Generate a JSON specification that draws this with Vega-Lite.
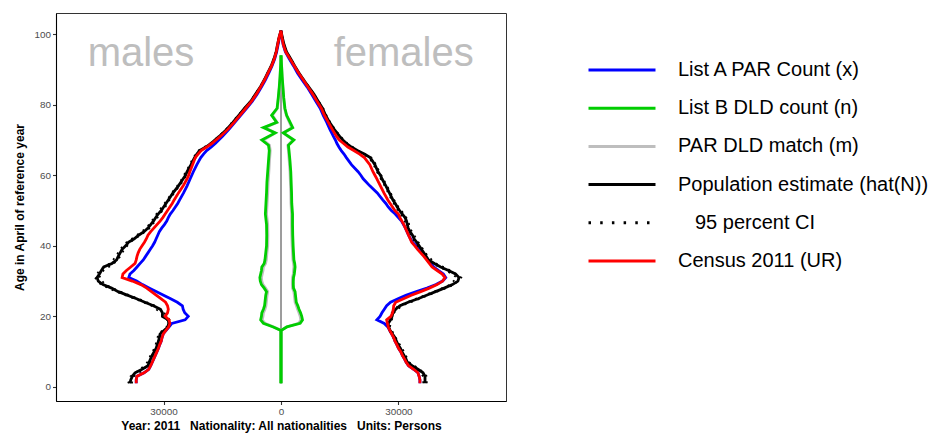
{
"$schema":"https://vega.github.io/schema/vega-lite/v6.json",
"width":450,"height":388,
"autosize":"none",
"padding":{"left":56,"top":13,"right":428,"bottom":32},
"background":"white",
"config":{
 "view":{"stroke":"#333333","strokeWidth":1},
 "font":"Liberation Sans",
 "axis":{"labelFont":"Liberation Sans","labelFontSize":9.9,"labelColor":"#4d4d4d","titleFont":"Liberation Sans","titleFontWeight":"bold","titleFontSize":12,"titleColor":"#000000","domainColor":"#000000","domainWidth":1.1,"tickColor":"#333333","tickWidth":1.1,"tickSize":3.5,"labelPadding":2,"grid":false},
 "axisX":{"titlePadding":4},
 "axisY":{"titlePadding":8}
},
"datasets":{
"center":[{"age":1,"v":0},{"age":93,"v":0}],
"sexLabels":[{"label":"males","v":-35780,"age":90.9},{"label":"females","v":31360,"age":90.9}],
"parA":[
{"age":1,"v":-37000,"line":"m"},{"age":2,"v":-37000,"line":"m"},{"age":3,"v":-36800,"line":"m"},{"age":4,"v":-35000,"line":"m"},{"age":5,"v":-33800,"line":"m"},{"age":6,"v":-33300,"line":"m"},{"age":7,"v":-32900,"line":"m"},{"age":8,"v":-32500,"line":"m"},{"age":9,"v":-32100,"line":"m"},{"age":10,"v":-31700,"line":"m"},{"age":11,"v":-31300,"line":"m"},{"age":12,"v":-31000,"line":"m"},{"age":13,"v":-30600,"line":"m"},{"age":14,"v":-30400,"line":"m"},{"age":15,"v":-30100,"line":"m"},{"age":16,"v":-29400,"line":"m"},{"age":17,"v":-28600,"line":"m"},{"age":18,"v":-27900,"line":"m"},{"age":19,"v":-24500,"line":"m"},{"age":20,"v":-23700,"line":"m"},{"age":21,"v":-24600,"line":"m"},{"age":22,"v":-25000,"line":"m"},{"age":23,"v":-25200,"line":"m"},{"age":24,"v":-26500,"line":"m"},{"age":25,"v":-28200,"line":"m"},{"age":26,"v":-30000,"line":"m"},{"age":27,"v":-31800,"line":"m"},{"age":28,"v":-33600,"line":"m"},{"age":29,"v":-35400,"line":"m"},{"age":30,"v":-36900,"line":"m"},{"age":31,"v":-38900,"line":"m"},{"age":32,"v":-38600,"line":"m"},{"age":33,"v":-37600,"line":"m"},{"age":34,"v":-36800,"line":"m"},{"age":35,"v":-36000,"line":"m"},{"age":36,"v":-35200,"line":"m"},{"age":37,"v":-34600,"line":"m"},{"age":38,"v":-34000,"line":"m"},{"age":39,"v":-33400,"line":"m"},{"age":40,"v":-32800,"line":"m"},{"age":41,"v":-32300,"line":"m"},{"age":42,"v":-31900,"line":"m"},{"age":43,"v":-31500,"line":"m"},{"age":44,"v":-31100,"line":"m"},{"age":45,"v":-30500,"line":"m"},{"age":46,"v":-29800,"line":"m"},{"age":47,"v":-29200,"line":"m"},{"age":48,"v":-28800,"line":"m"},{"age":49,"v":-28300,"line":"m"},{"age":50,"v":-27600,"line":"m"},{"age":51,"v":-27000,"line":"m"},{"age":52,"v":-26400,"line":"m"},{"age":53,"v":-25900,"line":"m"},{"age":55,"v":-24900,"line":"m"},{"age":57,"v":-24000,"line":"m"},{"age":59,"v":-23200,"line":"m"},{"age":60,"v":-22800,"line":"m"},{"age":61,"v":-22400,"line":"m"},{"age":63,"v":-21500,"line":"m"},{"age":65,"v":-20500,"line":"m"},{"age":66,"v":-19800,"line":"m"},{"age":67,"v":-19000,"line":"m"},{"age":68,"v":-17800,"line":"m"},{"age":69,"v":-16800,"line":"m"},{"age":70,"v":-15900,"line":"m"},{"age":71,"v":-15000,"line":"m"},{"age":73,"v":-13300,"line":"m"},{"age":75,"v":-11800,"line":"m"},{"age":77,"v":-10300,"line":"m"},{"age":79,"v":-8800,"line":"m"},{"age":81,"v":-7300,"line":"m"},{"age":83,"v":-6100,"line":"m"},{"age":85,"v":-5000,"line":"m"},{"age":87,"v":-4000,"line":"m"},{"age":89,"v":-3100,"line":"m"},{"age":91,"v":-2300,"line":"m"},{"age":93,"v":-1600,"line":"m"},{"age":95,"v":-1100,"line":"m"},{"age":97,"v":-750,"line":"m"},{"age":99,"v":-400,"line":"m"},{"age":101,"v":0,"line":"m"},
{"age":1,"v":35500,"line":"f"},{"age":2,"v":35500,"line":"f"},{"age":3,"v":35300,"line":"f"},{"age":4,"v":35000,"line":"f"},{"age":5,"v":33900,"line":"f"},{"age":6,"v":32600,"line":"f"},{"age":7,"v":32000,"line":"f"},{"age":8,"v":31500,"line":"f"},{"age":9,"v":31000,"line":"f"},{"age":10,"v":30600,"line":"f"},{"age":11,"v":30000,"line":"f"},{"age":12,"v":29600,"line":"f"},{"age":13,"v":29100,"line":"f"},{"age":14,"v":28800,"line":"f"},{"age":15,"v":28300,"line":"f"},{"age":16,"v":27800,"line":"f"},{"age":17,"v":27300,"line":"f"},{"age":18,"v":26400,"line":"f"},{"age":19,"v":24500,"line":"f"},{"age":20,"v":25300,"line":"f"},{"age":21,"v":25800,"line":"f"},{"age":22,"v":26400,"line":"f"},{"age":23,"v":27000,"line":"f"},{"age":24,"v":28000,"line":"f"},{"age":25,"v":29900,"line":"f"},{"age":26,"v":31900,"line":"f"},{"age":27,"v":34600,"line":"f"},{"age":28,"v":37300,"line":"f"},{"age":29,"v":39600,"line":"f"},{"age":30,"v":41300,"line":"f"},{"age":31,"v":42100,"line":"f"},{"age":32,"v":41500,"line":"f"},{"age":33,"v":40200,"line":"f"},{"age":34,"v":39000,"line":"f"},{"age":35,"v":38300,"line":"f"},{"age":36,"v":37600,"line":"f"},{"age":37,"v":36800,"line":"f"},{"age":38,"v":36000,"line":"f"},{"age":39,"v":35300,"line":"f"},{"age":40,"v":34600,"line":"f"},{"age":41,"v":33600,"line":"f"},{"age":42,"v":33100,"line":"f"},{"age":43,"v":32600,"line":"f"},{"age":44,"v":32200,"line":"f"},{"age":45,"v":31800,"line":"f"},{"age":46,"v":31300,"line":"f"},{"age":47,"v":30800,"line":"f"},{"age":48,"v":30000,"line":"f"},{"age":49,"v":29200,"line":"f"},{"age":50,"v":28200,"line":"f"},{"age":51,"v":27400,"line":"f"},{"age":52,"v":26800,"line":"f"},{"age":53,"v":26000,"line":"f"},{"age":55,"v":24600,"line":"f"},{"age":57,"v":22700,"line":"f"},{"age":59,"v":21000,"line":"f"},{"age":60,"v":20400,"line":"f"},{"age":61,"v":19700,"line":"f"},{"age":63,"v":18000,"line":"f"},{"age":65,"v":16700,"line":"f"},{"age":66,"v":16100,"line":"f"},{"age":67,"v":15400,"line":"f"},{"age":68,"v":14800,"line":"f"},{"age":69,"v":14300,"line":"f"},{"age":70,"v":13900,"line":"f"},{"age":71,"v":13400,"line":"f"},{"age":73,"v":12500,"line":"f"},{"age":75,"v":11700,"line":"f"},{"age":77,"v":10800,"line":"f"},{"age":79,"v":10000,"line":"f"},{"age":81,"v":8900,"line":"f"},{"age":83,"v":7800,"line":"f"},{"age":85,"v":6700,"line":"f"},{"age":87,"v":5400,"line":"f"},{"age":89,"v":4200,"line":"f"},{"age":91,"v":3200,"line":"f"},{"age":93,"v":2100,"line":"f"},{"age":95,"v":1100,"line":"f"},{"age":97,"v":550,"line":"f"},{"age":99,"v":250,"line":"f"},{"age":101,"v":0,"line":"f"}
],
"dldB":[
{"age":1,"v":0,"line":"m"},{"age":16,"v":0,"line":"m"},{"age":17,"v":-2000,"line":"m"},{"age":18,"v":-4500,"line":"m"},{"age":19,"v":-5200,"line":"m"},{"age":20,"v":-5000,"line":"m"},{"age":21,"v":-4900,"line":"m"},{"age":22,"v":-4500,"line":"m"},{"age":23,"v":-4200,"line":"m"},{"age":24,"v":-4100,"line":"m"},{"age":25,"v":-4000,"line":"m"},{"age":26,"v":-3900,"line":"m"},{"age":27,"v":-3700,"line":"m"},{"age":28,"v":-4300,"line":"m"},{"age":29,"v":-5000,"line":"m"},{"age":30,"v":-5300,"line":"m"},{"age":31,"v":-5400,"line":"m"},{"age":32,"v":-5200,"line":"m"},{"age":33,"v":-5000,"line":"m"},{"age":34,"v":-4900,"line":"m"},{"age":35,"v":-4300,"line":"m"},{"age":36,"v":-4100,"line":"m"},{"age":38,"v":-3900,"line":"m"},{"age":40,"v":-3700,"line":"m"},{"age":43,"v":-3650,"line":"m"},{"age":46,"v":-3700,"line":"m"},{"age":49,"v":-4000,"line":"m"},{"age":52,"v":-3850,"line":"m"},{"age":55,"v":-3700,"line":"m"},{"age":58,"v":-3600,"line":"m"},{"age":61,"v":-3400,"line":"m"},{"age":64,"v":-3200,"line":"m"},{"age":67,"v":-3000,"line":"m"},{"age":68.5,"v":-3200,"line":"m"},{"age":70,"v":-4900,"line":"m"},{"age":72,"v":-1500,"line":"m"},{"age":73.5,"v":-4500,"line":"m"},{"age":75,"v":-1100,"line":"m"},{"age":77,"v":-2400,"line":"m"},{"age":79,"v":-1000,"line":"m"},{"age":82,"v":-700,"line":"m"},{"age":85,"v":-450,"line":"m"},{"age":88,"v":-250,"line":"m"},{"age":91,"v":-100,"line":"m"},{"age":94,"v":0,"line":"m"},
{"age":1,"v":0,"line":"f"},{"age":16,"v":0,"line":"f"},{"age":17,"v":1500,"line":"f"},{"age":18,"v":4900,"line":"f"},{"age":19,"v":5500,"line":"f"},{"age":20,"v":5300,"line":"f"},{"age":21,"v":5000,"line":"f"},{"age":22,"v":4600,"line":"f"},{"age":23,"v":4300,"line":"f"},{"age":24,"v":3900,"line":"f"},{"age":25,"v":3800,"line":"f"},{"age":26,"v":3700,"line":"f"},{"age":27,"v":3600,"line":"f"},{"age":28,"v":3200,"line":"f"},{"age":29,"v":3150,"line":"f"},{"age":30,"v":3150,"line":"f"},{"age":31,"v":3200,"line":"f"},{"age":32,"v":3400,"line":"f"},{"age":33,"v":3500,"line":"f"},{"age":34,"v":3600,"line":"f"},{"age":35,"v":3500,"line":"f"},{"age":36,"v":3300,"line":"f"},{"age":38,"v":3200,"line":"f"},{"age":40,"v":3100,"line":"f"},{"age":43,"v":3000,"line":"f"},{"age":46,"v":2950,"line":"f"},{"age":49,"v":2950,"line":"f"},{"age":52,"v":2750,"line":"f"},{"age":55,"v":2700,"line":"f"},{"age":58,"v":2600,"line":"f"},{"age":61,"v":2500,"line":"f"},{"age":64,"v":2300,"line":"f"},{"age":67,"v":2050,"line":"f"},{"age":68.5,"v":1900,"line":"f"},{"age":70,"v":3300,"line":"f"},{"age":72,"v":600,"line":"f"},{"age":73.5,"v":3000,"line":"f"},{"age":77,"v":1450,"line":"f"},{"age":79,"v":1000,"line":"f"},{"age":82,"v":700,"line":"f"},{"age":85,"v":500,"line":"f"},{"age":88,"v":300,"line":"f"},{"age":91,"v":150,"line":"f"},{"age":94,"v":0,"line":"f"}
],
"match":[
{"age":1,"v":0,"line":"m"},{"age":16,"v":0,"line":"m"},{"age":17,"v":-1800,"line":"m"},{"age":18,"v":-4100,"line":"m"},{"age":19,"v":-4800,"line":"m"},{"age":20,"v":-4600,"line":"m"},{"age":21,"v":-4500,"line":"m"},{"age":22,"v":-4100,"line":"m"},{"age":23,"v":-3850,"line":"m"},{"age":24,"v":-3750,"line":"m"},{"age":25,"v":-3650,"line":"m"},{"age":26,"v":-3550,"line":"m"},{"age":27,"v":-3400,"line":"m"},{"age":28,"v":-3950,"line":"m"},{"age":29,"v":-4600,"line":"m"},{"age":30,"v":-4900,"line":"m"},{"age":31,"v":-5000,"line":"m"},{"age":32,"v":-4800,"line":"m"},{"age":33,"v":-4600,"line":"m"},{"age":34,"v":-4500,"line":"m"},{"age":35,"v":-3950,"line":"m"},{"age":36,"v":-3750,"line":"m"},{"age":38,"v":-3600,"line":"m"},{"age":40,"v":-3400,"line":"m"},{"age":43,"v":-3350,"line":"m"},{"age":46,"v":-3400,"line":"m"},{"age":49,"v":-3700,"line":"m"},{"age":52,"v":-3550,"line":"m"},{"age":55,"v":-3400,"line":"m"},{"age":58,"v":-3300,"line":"m"},{"age":61,"v":-3100,"line":"m"},{"age":64,"v":-2950,"line":"m"},{"age":67,"v":-2750,"line":"m"},{"age":68.5,"v":-2950,"line":"m"},{"age":70,"v":-4500,"line":"m"},{"age":72,"v":-1400,"line":"m"},{"age":73.5,"v":-4100,"line":"m"},{"age":75,"v":-1000,"line":"m"},{"age":77,"v":-2200,"line":"m"},{"age":79,"v":-900,"line":"m"},{"age":82,"v":-650,"line":"m"},{"age":85,"v":-400,"line":"m"},{"age":88,"v":-230,"line":"m"},{"age":91,"v":-90,"line":"m"},{"age":94,"v":0,"line":"m"},
{"age":1,"v":0,"line":"f"},{"age":16,"v":0,"line":"f"},{"age":17,"v":1400,"line":"f"},{"age":18,"v":4500,"line":"f"},{"age":19,"v":5050,"line":"f"},{"age":20,"v":4900,"line":"f"},{"age":21,"v":4600,"line":"f"},{"age":22,"v":4250,"line":"f"},{"age":23,"v":3950,"line":"f"},{"age":24,"v":3600,"line":"f"},{"age":25,"v":3500,"line":"f"},{"age":26,"v":3400,"line":"f"},{"age":27,"v":3300,"line":"f"},{"age":28,"v":2950,"line":"f"},{"age":29,"v":2900,"line":"f"},{"age":30,"v":2900,"line":"f"},{"age":31,"v":2950,"line":"f"},{"age":32,"v":3150,"line":"f"},{"age":33,"v":3200,"line":"f"},{"age":34,"v":3300,"line":"f"},{"age":35,"v":3200,"line":"f"},{"age":36,"v":3050,"line":"f"},{"age":38,"v":2950,"line":"f"},{"age":40,"v":2850,"line":"f"},{"age":43,"v":2750,"line":"f"},{"age":46,"v":2700,"line":"f"},{"age":49,"v":2700,"line":"f"},{"age":52,"v":2550,"line":"f"},{"age":55,"v":2500,"line":"f"},{"age":58,"v":2400,"line":"f"},{"age":61,"v":2300,"line":"f"},{"age":64,"v":2100,"line":"f"},{"age":67,"v":1900,"line":"f"},{"age":68.5,"v":1750,"line":"f"},{"age":70,"v":3050,"line":"f"},{"age":72,"v":550,"line":"f"},{"age":73.5,"v":2750,"line":"f"},{"age":77,"v":1350,"line":"f"},{"age":79,"v":900,"line":"f"},{"age":82,"v":650,"line":"f"},{"age":85,"v":450,"line":"f"},{"age":88,"v":280,"line":"f"},{"age":91,"v":140,"line":"f"},{"age":94,"v":0,"line":"f"}
],
"est":[
{"age":1,"v":-38600,"line":"m"},{"age":2,"v":-38400,"line":"m"},{"age":3,"v":-38000,"line":"m"},{"age":4,"v":-37300,"line":"m"},{"age":5,"v":-35500,"line":"m"},{"age":6,"v":-34000,"line":"m"},{"age":7,"v":-33700,"line":"m"},{"age":8,"v":-33300,"line":"m"},{"age":9,"v":-32900,"line":"m"},{"age":10,"v":-32400,"line":"m"},{"age":11,"v":-31900,"line":"m"},{"age":12,"v":-31600,"line":"m"},{"age":13,"v":-31300,"line":"m"},{"age":14,"v":-31100,"line":"m"},{"age":15,"v":-30900,"line":"m"},{"age":16,"v":-29900,"line":"m"},{"age":17,"v":-28900,"line":"m"},{"age":18,"v":-28700,"line":"m"},{"age":19,"v":-28800,"line":"m"},{"age":20,"v":-30300,"line":"m"},{"age":21,"v":-30300,"line":"m"},{"age":22,"v":-30800,"line":"m"},{"age":23,"v":-32600,"line":"m"},{"age":24,"v":-34800,"line":"m"},{"age":25,"v":-36900,"line":"m"},{"age":26,"v":-39300,"line":"m"},{"age":27,"v":-41600,"line":"m"},{"age":28,"v":-43300,"line":"m"},{"age":29,"v":-45500,"line":"m"},{"age":30,"v":-46700,"line":"m"},{"age":31,"v":-47000,"line":"m"},{"age":32,"v":-46400,"line":"m"},{"age":33,"v":-45900,"line":"m"},{"age":34,"v":-45300,"line":"m"},{"age":35,"v":-43200,"line":"m"},{"age":36,"v":-42000,"line":"m"},{"age":37,"v":-41600,"line":"m"},{"age":38,"v":-41100,"line":"m"},{"age":39,"v":-40600,"line":"m"},{"age":40,"v":-39700,"line":"m"},{"age":41,"v":-39000,"line":"m"},{"age":42,"v":-37500,"line":"m"},{"age":43,"v":-36400,"line":"m"},{"age":44,"v":-35000,"line":"m"},{"age":45,"v":-34000,"line":"m"},{"age":46,"v":-33300,"line":"m"},{"age":47,"v":-32600,"line":"m"},{"age":48,"v":-32000,"line":"m"},{"age":49,"v":-31400,"line":"m"},{"age":50,"v":-30600,"line":"m"},{"age":51,"v":-30000,"line":"m"},{"age":52,"v":-29400,"line":"m"},{"age":53,"v":-28800,"line":"m"},{"age":55,"v":-27600,"line":"m"},{"age":57,"v":-26200,"line":"m"},{"age":59,"v":-25000,"line":"m"},{"age":60,"v":-24400,"line":"m"},{"age":61,"v":-24000,"line":"m"},{"age":63,"v":-23000,"line":"m"},{"age":65,"v":-22100,"line":"m"},{"age":66,"v":-21500,"line":"m"},{"age":67,"v":-20800,"line":"m"},{"age":68,"v":-19200,"line":"m"},{"age":69,"v":-17900,"line":"m"},{"age":70,"v":-16900,"line":"m"},{"age":71,"v":-15800,"line":"m"},{"age":73,"v":-13900,"line":"m"},{"age":75,"v":-12300,"line":"m"},{"age":77,"v":-10800,"line":"m"},{"age":79,"v":-9300,"line":"m"},{"age":81,"v":-7700,"line":"m"},{"age":83,"v":-6500,"line":"m"},{"age":85,"v":-5300,"line":"m"},{"age":87,"v":-4300,"line":"m"},{"age":89,"v":-3400,"line":"m"},{"age":91,"v":-2500,"line":"m"},{"age":93,"v":-1800,"line":"m"},{"age":95,"v":-1250,"line":"m"},{"age":97,"v":-900,"line":"m"},{"age":99,"v":-500,"line":"m"},{"age":101,"v":0,"line":"m"},
{"age":1,"v":36800,"line":"f"},{"age":2,"v":36800,"line":"f"},{"age":3,"v":36800,"line":"f"},{"age":4,"v":36300,"line":"f"},{"age":5,"v":35000,"line":"f"},{"age":6,"v":33500,"line":"f"},{"age":7,"v":32300,"line":"f"},{"age":8,"v":31900,"line":"f"},{"age":9,"v":31400,"line":"f"},{"age":10,"v":30900,"line":"f"},{"age":11,"v":30500,"line":"f"},{"age":12,"v":29900,"line":"f"},{"age":13,"v":29500,"line":"f"},{"age":14,"v":29100,"line":"f"},{"age":15,"v":28500,"line":"f"},{"age":16,"v":27900,"line":"f"},{"age":17,"v":27500,"line":"f"},{"age":18,"v":27400,"line":"f"},{"age":19,"v":28000,"line":"f"},{"age":20,"v":28400,"line":"f"},{"age":21,"v":28600,"line":"f"},{"age":22,"v":29300,"line":"f"},{"age":23,"v":30400,"line":"f"},{"age":24,"v":32500,"line":"f"},{"age":25,"v":35000,"line":"f"},{"age":26,"v":37200,"line":"f"},{"age":27,"v":39500,"line":"f"},{"age":28,"v":41700,"line":"f"},{"age":29,"v":43800,"line":"f"},{"age":30,"v":45200,"line":"f"},{"age":31,"v":45500,"line":"f"},{"age":32,"v":44600,"line":"f"},{"age":33,"v":42800,"line":"f"},{"age":34,"v":40800,"line":"f"},{"age":35,"v":39200,"line":"f"},{"age":36,"v":37700,"line":"f"},{"age":37,"v":37100,"line":"f"},{"age":38,"v":36500,"line":"f"},{"age":39,"v":35900,"line":"f"},{"age":40,"v":35300,"line":"f"},{"age":41,"v":34700,"line":"f"},{"age":42,"v":34000,"line":"f"},{"age":43,"v":33600,"line":"f"},{"age":44,"v":33000,"line":"f"},{"age":45,"v":32500,"line":"f"},{"age":46,"v":32300,"line":"f"},{"age":47,"v":32100,"line":"f"},{"age":48,"v":31700,"line":"f"},{"age":49,"v":31000,"line":"f"},{"age":50,"v":30300,"line":"f"},{"age":51,"v":29700,"line":"f"},{"age":52,"v":29200,"line":"f"},{"age":53,"v":28600,"line":"f"},{"age":55,"v":27700,"line":"f"},{"age":57,"v":26800,"line":"f"},{"age":59,"v":25800,"line":"f"},{"age":60,"v":25400,"line":"f"},{"age":61,"v":24800,"line":"f"},{"age":63,"v":24000,"line":"f"},{"age":65,"v":22800,"line":"f"},{"age":66,"v":21300,"line":"f"},{"age":67,"v":19500,"line":"f"},{"age":68,"v":18000,"line":"f"},{"age":69,"v":16800,"line":"f"},{"age":70,"v":15800,"line":"f"},{"age":71,"v":15000,"line":"f"},{"age":73,"v":13600,"line":"f"},{"age":75,"v":12400,"line":"f"},{"age":77,"v":11400,"line":"f"},{"age":79,"v":10600,"line":"f"},{"age":81,"v":9500,"line":"f"},{"age":83,"v":8400,"line":"f"},{"age":85,"v":7100,"line":"f"},{"age":87,"v":5800,"line":"f"},{"age":89,"v":4600,"line":"f"},{"age":91,"v":3500,"line":"f"},{"age":93,"v":2500,"line":"f"},{"age":95,"v":1400,"line":"f"},{"age":97,"v":800,"line":"f"},{"age":99,"v":350,"line":"f"},{"age":101,"v":0,"line":"f"}
],
"ci":[
{"age":1,"v":-39050,"line":"mlo"},{"age":3,"v":-38450,"line":"mlo"},{"age":5,"v":-35950,"line":"mlo"},{"age":7,"v":-34150,"line":"mlo"},{"age":9,"v":-33350,"line":"mlo"},{"age":11,"v":-32350,"line":"mlo"},{"age":13,"v":-31750,"line":"mlo"},{"age":15,"v":-31350,"line":"mlo"},{"age":17,"v":-29220,"line":"mlo"},{"age":19,"v":-29120,"line":"mlo"},{"age":21,"v":-30750,"line":"mlo"},{"age":23,"v":-33050,"line":"mlo"},{"age":25,"v":-37350,"line":"mlo"},{"age":27,"v":-42150,"line":"mlo"},{"age":29,"v":-46050,"line":"mlo"},{"age":31,"v":-47550,"line":"mlo"},{"age":33,"v":-46450,"line":"mlo"},{"age":35,"v":-43750,"line":"mlo"},{"age":37,"v":-42150,"line":"mlo"},{"age":39,"v":-41150,"line":"mlo"},{"age":41,"v":-39450,"line":"mlo"},{"age":43,"v":-36850,"line":"mlo"},{"age":45,"v":-34450,"line":"mlo"},{"age":47,"v":-33050,"line":"mlo"},{"age":49,"v":-31850,"line":"mlo"},{"age":51,"v":-30450,"line":"mlo"},{"age":53,"v":-29120,"line":"mlo"},{"age":55,"v":-27920,"line":"mlo"},{"age":57,"v":-26520,"line":"mlo"},{"age":59,"v":-25320,"line":"mlo"},{"age":61,"v":-24320,"line":"mlo"},{"age":63,"v":-23320,"line":"mlo"},{"age":65,"v":-22420,"line":"mlo"},{"age":67,"v":-21120,"line":"mlo"},{"age":69,"v":-18100,"line":"mlo"},{"age":71,"v":-16000,"line":"mlo"},{"age":73,"v":-14100,"line":"mlo"},{"age":75,"v":-12500,"line":"mlo"},{"age":77,"v":-11000,"line":"mlo"},{"age":79,"v":-9400,"line":"mlo"},{"age":81,"v":-7800,"line":"mlo"},{"age":83,"v":-6600,"line":"mlo"},{"age":85,"v":-5400,"line":"mlo"},{"age":87,"v":-4350,"line":"mlo"},{"age":89,"v":-3450,"line":"mlo"},{"age":91,"v":-2550,"line":"mlo"},{"age":93,"v":-1850,"line":"mlo"},{"age":95,"v":-1300,"line":"mlo"},{"age":97,"v":-950,"line":"mlo"},{"age":99,"v":-550,"line":"mlo"},{"age":101,"v":0,"line":"mlo"},
{"age":1,"v":-38150,"line":"mhi"},{"age":3,"v":-37550,"line":"mhi"},{"age":5,"v":-35050,"line":"mhi"},{"age":7,"v":-33250,"line":"mhi"},{"age":9,"v":-32450,"line":"mhi"},{"age":11,"v":-31450,"line":"mhi"},{"age":13,"v":-30850,"line":"mhi"},{"age":15,"v":-30450,"line":"mhi"},{"age":17,"v":-28580,"line":"mhi"},{"age":19,"v":-28480,"line":"mhi"},{"age":21,"v":-29850,"line":"mhi"},{"age":23,"v":-32150,"line":"mhi"},{"age":25,"v":-36450,"line":"mhi"},{"age":27,"v":-41050,"line":"mhi"},{"age":29,"v":-44950,"line":"mhi"},{"age":31,"v":-46450,"line":"mhi"},{"age":33,"v":-45350,"line":"mhi"},{"age":35,"v":-42650,"line":"mhi"},{"age":37,"v":-41050,"line":"mhi"},{"age":39,"v":-40050,"line":"mhi"},{"age":41,"v":-38550,"line":"mhi"},{"age":43,"v":-35950,"line":"mhi"},{"age":45,"v":-33550,"line":"mhi"},{"age":47,"v":-32150,"line":"mhi"},{"age":49,"v":-30950,"line":"mhi"},{"age":51,"v":-29550,"line":"mhi"},{"age":53,"v":-28480,"line":"mhi"},{"age":55,"v":-27280,"line":"mhi"},{"age":57,"v":-25880,"line":"mhi"},{"age":59,"v":-24680,"line":"mhi"},{"age":61,"v":-23680,"line":"mhi"},{"age":63,"v":-22680,"line":"mhi"},{"age":65,"v":-21780,"line":"mhi"},{"age":67,"v":-20480,"line":"mhi"},{"age":69,"v":-17700,"line":"mhi"},{"age":71,"v":-15600,"line":"mhi"},{"age":73,"v":-13700,"line":"mhi"},{"age":75,"v":-12100,"line":"mhi"},{"age":77,"v":-10600,"line":"mhi"},{"age":79,"v":-9200,"line":"mhi"},{"age":81,"v":-7600,"line":"mhi"},{"age":83,"v":-6400,"line":"mhi"},{"age":85,"v":-5200,"line":"mhi"},{"age":87,"v":-4250,"line":"mhi"},{"age":89,"v":-3350,"line":"mhi"},{"age":91,"v":-2450,"line":"mhi"},{"age":93,"v":-1750,"line":"mhi"},{"age":95,"v":-1200,"line":"mhi"},{"age":97,"v":-850,"line":"mhi"},{"age":99,"v":-450,"line":"mhi"},{"age":101,"v":0,"line":"mhi"},
{"age":1,"v":36350,"line":"flo"},{"age":3,"v":36350,"line":"flo"},{"age":5,"v":34550,"line":"flo"},{"age":7,"v":31850,"line":"flo"},{"age":9,"v":30950,"line":"flo"},{"age":11,"v":30050,"line":"flo"},{"age":13,"v":29180,"line":"flo"},{"age":15,"v":28180,"line":"flo"},{"age":17,"v":27180,"line":"flo"},{"age":19,"v":27680,"line":"flo"},{"age":21,"v":28280,"line":"flo"},{"age":23,"v":29950,"line":"flo"},{"age":25,"v":34550,"line":"flo"},{"age":27,"v":39050,"line":"flo"},{"age":29,"v":43250,"line":"flo"},{"age":31,"v":44950,"line":"flo"},{"age":33,"v":42250,"line":"flo"},{"age":35,"v":38750,"line":"flo"},{"age":37,"v":36650,"line":"flo"},{"age":39,"v":35450,"line":"flo"},{"age":41,"v":34250,"line":"flo"},{"age":43,"v":33150,"line":"flo"},{"age":45,"v":32050,"line":"flo"},{"age":47,"v":31650,"line":"flo"},{"age":49,"v":30550,"line":"flo"},{"age":51,"v":29380,"line":"flo"},{"age":53,"v":28280,"line":"flo"},{"age":55,"v":27380,"line":"flo"},{"age":57,"v":26480,"line":"flo"},{"age":59,"v":25480,"line":"flo"},{"age":61,"v":24480,"line":"flo"},{"age":63,"v":23680,"line":"flo"},{"age":65,"v":22480,"line":"flo"},{"age":67,"v":19300,"line":"flo"},{"age":69,"v":16600,"line":"flo"},{"age":71,"v":14800,"line":"flo"},{"age":73,"v":13400,"line":"flo"},{"age":75,"v":12200,"line":"flo"},{"age":77,"v":11200,"line":"flo"},{"age":79,"v":10400,"line":"flo"},{"age":81,"v":9400,"line":"flo"},{"age":83,"v":8300,"line":"flo"},{"age":85,"v":7000,"line":"flo"},{"age":87,"v":5700,"line":"flo"},{"age":89,"v":4550,"line":"flo"},{"age":91,"v":3450,"line":"flo"},{"age":93,"v":2450,"line":"flo"},{"age":95,"v":1350,"line":"flo"},{"age":97,"v":750,"line":"flo"},{"age":99,"v":300,"line":"flo"},{"age":101,"v":0,"line":"flo"},
{"age":1,"v":37250,"line":"fhi"},{"age":3,"v":37250,"line":"fhi"},{"age":5,"v":35450,"line":"fhi"},{"age":7,"v":32750,"line":"fhi"},{"age":9,"v":31850,"line":"fhi"},{"age":11,"v":30950,"line":"fhi"},{"age":13,"v":29820,"line":"fhi"},{"age":15,"v":28820,"line":"fhi"},{"age":17,"v":27820,"line":"fhi"},{"age":19,"v":28320,"line":"fhi"},{"age":21,"v":28920,"line":"fhi"},{"age":23,"v":30850,"line":"fhi"},{"age":25,"v":35450,"line":"fhi"},{"age":27,"v":39950,"line":"fhi"},{"age":29,"v":44350,"line":"fhi"},{"age":31,"v":46050,"line":"fhi"},{"age":33,"v":43350,"line":"fhi"},{"age":35,"v":39650,"line":"fhi"},{"age":37,"v":37550,"line":"fhi"},{"age":39,"v":36350,"line":"fhi"},{"age":41,"v":35150,"line":"fhi"},{"age":43,"v":34050,"line":"fhi"},{"age":45,"v":32950,"line":"fhi"},{"age":47,"v":32550,"line":"fhi"},{"age":49,"v":31450,"line":"fhi"},{"age":51,"v":30020,"line":"fhi"},{"age":53,"v":28920,"line":"fhi"},{"age":55,"v":28020,"line":"fhi"},{"age":57,"v":27120,"line":"fhi"},{"age":59,"v":26120,"line":"fhi"},{"age":61,"v":25120,"line":"fhi"},{"age":63,"v":24320,"line":"fhi"},{"age":65,"v":23120,"line":"fhi"},{"age":67,"v":19700,"line":"fhi"},{"age":69,"v":17000,"line":"fhi"},{"age":71,"v":15200,"line":"fhi"},{"age":73,"v":13800,"line":"fhi"},{"age":75,"v":12600,"line":"fhi"},{"age":77,"v":11600,"line":"fhi"},{"age":79,"v":10800,"line":"fhi"},{"age":81,"v":9600,"line":"fhi"},{"age":83,"v":8500,"line":"fhi"},{"age":85,"v":7200,"line":"fhi"},{"age":87,"v":5900,"line":"fhi"},{"age":89,"v":4650,"line":"fhi"},{"age":91,"v":3550,"line":"fhi"},{"age":93,"v":2550,"line":"fhi"},{"age":95,"v":1450,"line":"fhi"},{"age":97,"v":850,"line":"fhi"},{"age":99,"v":400,"line":"fhi"},{"age":101,"v":0,"line":"fhi"}
],
"census":[
{"age":1,"v":-37000,"line":"m"},{"age":2,"v":-37000,"line":"m"},{"age":3,"v":-36800,"line":"m"},{"age":4,"v":-35000,"line":"m"},{"age":5,"v":-33800,"line":"m"},{"age":6,"v":-33300,"line":"m"},{"age":7,"v":-32900,"line":"m"},{"age":8,"v":-32500,"line":"m"},{"age":9,"v":-32100,"line":"m"},{"age":10,"v":-31700,"line":"m"},{"age":11,"v":-31300,"line":"m"},{"age":12,"v":-31000,"line":"m"},{"age":13,"v":-30600,"line":"m"},{"age":14,"v":-30400,"line":"m"},{"age":15,"v":-30100,"line":"m"},{"age":16,"v":-29400,"line":"m"},{"age":17,"v":-28700,"line":"m"},{"age":18,"v":-28400,"line":"m"},{"age":19,"v":-28600,"line":"m"},{"age":20,"v":-29600,"line":"m"},{"age":21,"v":-29000,"line":"m"},{"age":22,"v":-28800,"line":"m"},{"age":23,"v":-29000,"line":"m"},{"age":24,"v":-29500,"line":"m"},{"age":25,"v":-30700,"line":"m"},{"age":26,"v":-31900,"line":"m"},{"age":27,"v":-33100,"line":"m"},{"age":28,"v":-34300,"line":"m"},{"age":29,"v":-35800,"line":"m"},{"age":30,"v":-38000,"line":"m"},{"age":31,"v":-40600,"line":"m"},{"age":32,"v":-40400,"line":"m"},{"age":33,"v":-39500,"line":"m"},{"age":34,"v":-38400,"line":"m"},{"age":35,"v":-37300,"line":"m"},{"age":36,"v":-37000,"line":"m"},{"age":37,"v":-36800,"line":"m"},{"age":38,"v":-36500,"line":"m"},{"age":39,"v":-36100,"line":"m"},{"age":40,"v":-35500,"line":"m"},{"age":41,"v":-34900,"line":"m"},{"age":42,"v":-34400,"line":"m"},{"age":43,"v":-34000,"line":"m"},{"age":44,"v":-33300,"line":"m"},{"age":45,"v":-32500,"line":"m"},{"age":46,"v":-31700,"line":"m"},{"age":47,"v":-30900,"line":"m"},{"age":48,"v":-30200,"line":"m"},{"age":49,"v":-29600,"line":"m"},{"age":50,"v":-29000,"line":"m"},{"age":51,"v":-28400,"line":"m"},{"age":52,"v":-27800,"line":"m"},{"age":53,"v":-27300,"line":"m"},{"age":55,"v":-26200,"line":"m"},{"age":57,"v":-25000,"line":"m"},{"age":59,"v":-24000,"line":"m"},{"age":60,"v":-23600,"line":"m"},{"age":61,"v":-23300,"line":"m"},{"age":63,"v":-22600,"line":"m"},{"age":65,"v":-21900,"line":"m"},{"age":66,"v":-21200,"line":"m"},{"age":67,"v":-20400,"line":"m"},{"age":68,"v":-19000,"line":"m"},{"age":69,"v":-17700,"line":"m"},{"age":70,"v":-16600,"line":"m"},{"age":71,"v":-15500,"line":"m"},{"age":73,"v":-13600,"line":"m"},{"age":75,"v":-12000,"line":"m"},{"age":77,"v":-10500,"line":"m"},{"age":79,"v":-9000,"line":"m"},{"age":81,"v":-7500,"line":"m"},{"age":83,"v":-6300,"line":"m"},{"age":85,"v":-5200,"line":"m"},{"age":87,"v":-4200,"line":"m"},{"age":89,"v":-3300,"line":"m"},{"age":91,"v":-2400,"line":"m"},{"age":93,"v":-1700,"line":"m"},{"age":95,"v":-1200,"line":"m"},{"age":97,"v":-850,"line":"m"},{"age":99,"v":-500,"line":"m"},{"age":101,"v":0,"line":"m"},
{"age":1,"v":35500,"line":"f"},{"age":2,"v":35500,"line":"f"},{"age":3,"v":35300,"line":"f"},{"age":4,"v":35000,"line":"f"},{"age":5,"v":33900,"line":"f"},{"age":6,"v":32600,"line":"f"},{"age":7,"v":32000,"line":"f"},{"age":8,"v":31500,"line":"f"},{"age":9,"v":31000,"line":"f"},{"age":10,"v":30600,"line":"f"},{"age":11,"v":30000,"line":"f"},{"age":12,"v":29600,"line":"f"},{"age":13,"v":29100,"line":"f"},{"age":14,"v":28800,"line":"f"},{"age":15,"v":28300,"line":"f"},{"age":16,"v":27800,"line":"f"},{"age":17,"v":27400,"line":"f"},{"age":18,"v":27200,"line":"f"},{"age":19,"v":27000,"line":"f"},{"age":20,"v":28100,"line":"f"},{"age":21,"v":28500,"line":"f"},{"age":22,"v":28700,"line":"f"},{"age":23,"v":28800,"line":"f"},{"age":24,"v":29300,"line":"f"},{"age":25,"v":31300,"line":"f"},{"age":26,"v":33300,"line":"f"},{"age":27,"v":35700,"line":"f"},{"age":28,"v":37900,"line":"f"},{"age":29,"v":39900,"line":"f"},{"age":30,"v":41300,"line":"f"},{"age":31,"v":41900,"line":"f"},{"age":32,"v":41200,"line":"f"},{"age":33,"v":39900,"line":"f"},{"age":34,"v":38600,"line":"f"},{"age":35,"v":37900,"line":"f"},{"age":36,"v":37200,"line":"f"},{"age":37,"v":36500,"line":"f"},{"age":38,"v":35700,"line":"f"},{"age":39,"v":34900,"line":"f"},{"age":40,"v":34200,"line":"f"},{"age":41,"v":33400,"line":"f"},{"age":42,"v":33000,"line":"f"},{"age":43,"v":32600,"line":"f"},{"age":44,"v":32200,"line":"f"},{"age":45,"v":31800,"line":"f"},{"age":46,"v":31400,"line":"f"},{"age":47,"v":30900,"line":"f"},{"age":48,"v":30400,"line":"f"},{"age":49,"v":30000,"line":"f"},{"age":50,"v":29100,"line":"f"},{"age":51,"v":28500,"line":"f"},{"age":52,"v":27900,"line":"f"},{"age":53,"v":27300,"line":"f"},{"age":55,"v":26300,"line":"f"},{"age":57,"v":25400,"line":"f"},{"age":59,"v":24500,"line":"f"},{"age":60,"v":24000,"line":"f"},{"age":61,"v":23500,"line":"f"},{"age":63,"v":22700,"line":"f"},{"age":65,"v":21300,"line":"f"},{"age":66,"v":20100,"line":"f"},{"age":67,"v":18600,"line":"f"},{"age":68,"v":17100,"line":"f"},{"age":69,"v":16000,"line":"f"},{"age":70,"v":14900,"line":"f"},{"age":71,"v":14200,"line":"f"},{"age":73,"v":13100,"line":"f"},{"age":75,"v":12100,"line":"f"},{"age":77,"v":11100,"line":"f"},{"age":79,"v":10300,"line":"f"},{"age":81,"v":9200,"line":"f"},{"age":83,"v":8100,"line":"f"},{"age":85,"v":6900,"line":"f"},{"age":87,"v":5700,"line":"f"},{"age":89,"v":4500,"line":"f"},{"age":91,"v":3400,"line":"f"},{"age":93,"v":2300,"line":"f"},{"age":95,"v":1200,"line":"f"},{"age":97,"v":600,"line":"f"},{"age":99,"v":250,"line":"f"},{"age":101,"v":0,"line":"f"}
]
},
"layer":[
{"data":{"name":"center"},
 "mark":{"type":"line","color":"#3a3a3a","strokeWidth":1},
 "encoding":{
  "x":{"field":"v","type":"quantitative","scale":{"domain":[-57500,57500],"nice":false,"zero":false},
       "axis":{"values":[-30000,0,30000],"labelExpr":"format(abs(datum.value),'d')","title":"Year: 2011\u00a0\u00a0 Nationality: All nationalities\u00a0\u00a0 Units: Persons"}},
  "y":{"field":"age","type":"quantitative","scale":{"domain":[-4,106],"nice":false,"zero":false},
       "axis":{"values":[0,10,20,30,40,50,60,70,80,90,100],"title":"Age in April of reference year"}},
  "order":{"field":"age","type":"quantitative"}}},
{"data":{"name":"match"},
 "mark":{"type":"line","strokeWidth":2.8},
 "encoding":{
  "x":{"field":"v","type":"quantitative"},
  "y":{"field":"age","type":"quantitative"},
  "detail":{"field":"line"},
  "order":{"field":"age","type":"quantitative"},
  "color":{"datum":"PAR DLD match (m)","type":"nominal",
   "scale":{"domain":["List A PAR Count (x)","List B DLD count (n)","PAR DLD match (m)","Population estimate (hat(N))","95 percent CI","Census 2011 (UR)"],
            "range":["#0000FF","#00CD00","#BEBEBE","#000000","#000000","#FF0000"]},
   "legend":{"orient":"none","legendX":531,"legendY":47,"title":null,"symbolType":"stroke","symbolSize":4489,"symbolStrokeWidth":3,
     "clipHeight":20,"rowPadding":18.2,"padding":0,"labelFont":"Liberation Sans","labelFontSize":20,"labelColor":"#000000","labelOffset":21,"labelLimit":400,
     "encode":{"symbols":{"update":{"strokeDash":{"signal":"datum.value == '95 percent CI' ? [2.5, 9.2] : [1, 0]"}}},
               "labels":{"update":{"dx":{"signal":"datum.value == '95 percent CI' ? 17 : 0"}}}}}}}},
{"data":{"name":"dldB"},
 "mark":{"type":"line","strokeWidth":2.8},
 "encoding":{"x":{"field":"v","type":"quantitative"},"y":{"field":"age","type":"quantitative"},"detail":{"field":"line"},"order":{"field":"age","type":"quantitative"},
  "color":{"datum":"List B DLD count (n)","type":"nominal"}}},
{"data":{"name":"parA"},
 "mark":{"type":"line","strokeWidth":2.8},
 "encoding":{"x":{"field":"v","type":"quantitative"},"y":{"field":"age","type":"quantitative"},"detail":{"field":"line"},"order":{"field":"age","type":"quantitative"},
  "color":{"datum":"List A PAR Count (x)","type":"nominal"}}},
{"data":{"name":"est"},
 "mark":{"type":"line","strokeWidth":2.8},
 "encoding":{"x":{"field":"v","type":"quantitative"},"y":{"field":"age","type":"quantitative"},"detail":{"field":"line"},"order":{"field":"age","type":"quantitative"},
  "color":{"datum":"Population estimate (hat(N))","type":"nominal"}}},
{"data":{"name":"ci"},
 "mark":{"type":"line","strokeWidth":1.8,"strokeDash":[2,5]},
 "encoding":{"x":{"field":"v","type":"quantitative"},"y":{"field":"age","type":"quantitative"},"detail":{"field":"line"},"order":{"field":"age","type":"quantitative"},
  "color":{"datum":"95 percent CI","type":"nominal"}}},
{"data":{"name":"census"},
 "mark":{"type":"line","strokeWidth":2.8},
 "encoding":{"x":{"field":"v","type":"quantitative"},"y":{"field":"age","type":"quantitative"},"detail":{"field":"line"},"order":{"field":"age","type":"quantitative"},
  "color":{"datum":"Census 2011 (UR)","type":"nominal"}}},
{"data":{"name":"sexLabels"},
 "mark":{"type":"text","font":"Liberation Sans","fontSize":40,"color":"#BEBEBE","align":"center","baseline":"alphabetic"},
 "encoding":{"x":{"field":"v","type":"quantitative"},"y":{"field":"age","type":"quantitative"},"text":{"field":"label"}}}
]
}
